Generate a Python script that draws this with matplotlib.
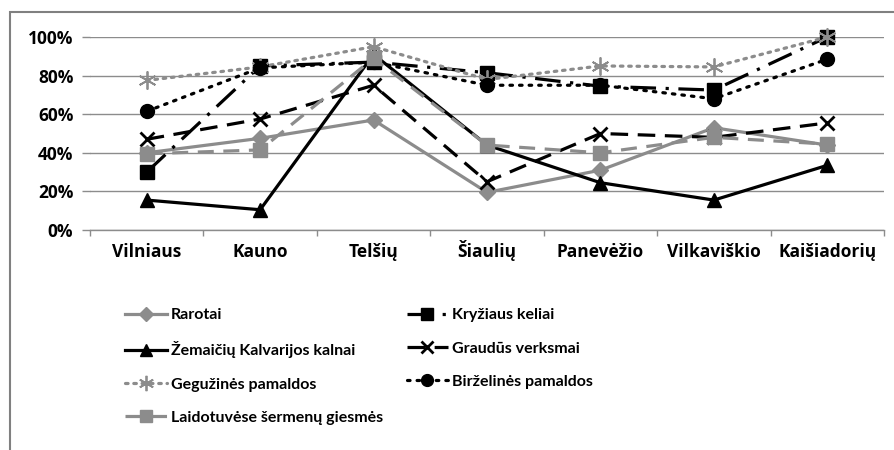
import matplotlib
matplotlib.use("Agg")
import matplotlib.pyplot as plt
from matplotlib.patches import Rectangle

categories = ["Vilniaus", "Kauno", "Telšių", "Šiaulių", "Panevėžio", "Vilkaviškio", "Kaišiadorių"]

rarotai = [40, 47.5, 57, 19.5, 31, 53, 44]
kryziaus = [30, 85, 87, 81.5, 74.5, 72.5, 100]
zemaiciu = [15.5, 10.5, 91, 44, 24.5, 15.5, 33.5]
graudus = [47, 57.5, 75, 25, 50, 48, 55.5]
geguzines = [77.5, 84.5, 95, 78, 85, 84.5, 100]
birzelines = [61.5, 84, 87, 75, 75, 68, 88.5]
laidotuves = [39.5, 41.5, 89, 44, 40, 48, 44.5]

series_names = ["Rarotai", "Kryžiaus keliai", "Žemaičių Kalvarijos kalnai", "Graudūs verksmai",
                "Gegužinės pamaldos", "Birželinės pamaldos", "Laidotuvėse šermenų giesmės"]
yticks = [0, 20, 40, 60, 80, 100]
ytick_labels = ["0%", "20%", "40%", "60%", "80%", "100%"]

GRAY = "#8c8c8c"
BLACK = "#000000"

plt.rcParams["font.family"] = ["Lato", "DejaVu Sans"]
plt.rcParams["font.weight"] = "bold"

fig = plt.figure(figsize=(8.94, 4.5), dpi=100)
# outer chart frame (only top and left edges fall inside the image)
fig.patches.append(Rectangle((9.5/894, -0.05), 1.2, 1.05 - 12.5/450, transform=fig.transFigure,
                             fill=False, edgecolor="#808080", linewidth=1.5))

ax = fig.add_axes([90/894, 1-230/450, (884-90)/894, 193/450])
x = list(range(len(categories)))

styles = [
    dict(data=rarotai, color=GRAY, ls="-", marker="D", ms=8, mfc=GRAY, mec=GRAY),
    dict(data=kryziaus, color=BLACK, ls=(0, (8, 3, 1, 3)), marker="s", ms=10, mfc=BLACK, mec=BLACK),
    dict(data=zemaiciu, color=BLACK, ls="-", marker="^", ms=10, mfc=BLACK, mec=BLACK),
    dict(data=graudus, color=BLACK, ls=(0, (5.5, 3)), marker="x", ms=10, mfc=BLACK, mec=BLACK, mew=2),
    dict(data=geguzines, color=GRAY, ls=(0, (0.8, 1.8)), marker=(6, 2, 0), ms=13, mfc=GRAY, mec=GRAY, mew=1.3),
    dict(data=birzelines, color=BLACK, ls=(0, (0.8, 2.2)), marker="o", ms=10, mfc=BLACK, mec=BLACK),
    dict(data=laidotuves, color=GRAY, ls=(0, (5, 3)), marker="s", ms=10, mfc=GRAY, mec=GRAY),
]

handles = []
for name, st in zip(series_names, styles):
    mew = st.get("mew", 1)
    ln, = ax.plot(x, st["data"], color=st["color"], linestyle=st["ls"], linewidth=2.3,
                  marker=st["marker"], markersize=st["ms"], markerfacecolor=st["mfc"],
                  markeredgecolor=st["mec"], markeredgewidth=mew, label=name,
                  dash_capstyle="round" if "pamaldos" in name else "butt", clip_on=False, zorder=3)
    handles.append(ln)

ax.set_xlim(-0.5, len(categories) - 0.5)
ax.set_ylim(0, 100)
ax.set_yticks(yticks)
ax.set_yticklabels(ytick_labels)
ax.set_xticks(x)
ax.set_xticklabels(categories)
ax.set_xticks([i - 0.5 for i in range(len(categories) + 1)], minor=True)
ax.tick_params(axis="x", which="major", length=0, pad=19.5, colors=BLACK)
ax.tick_params(axis="x", which="minor", length=4, width=1, color="#8c8c8c")
ax.tick_params(axis="y", length=6, width=1, color="#8c8c8c", pad=6)
for lab in ax.get_xticklabels() + ax.get_yticklabels():
    lab.set_fontweight("bold")
    lab.set_family(["Open Sans", "DejaVu Sans"])
    lab.set_fontsize(12.5)
for lab in ax.get_xticklabels():
    lab.set_verticalalignment("baseline")
ax.grid(axis="y", color="#8c8c8c", linewidth=1)
ax.set_axisbelow(True)
for s in ["top", "right", "left"]:
    ax.spines[s].set_visible(False)
ax.spines["bottom"].set_color("#8c8c8c")
ax.spines["bottom"].set_linewidth(1)

order = [0, 2, 4, 6, 1, 3, 5]
leg = fig.legend([handles[i] for i in order], [series_names[i] for i in order],
                 ncol=2, loc="upper left", bbox_to_anchor=(125/894, 1-308/450),
                 frameon=False, fontsize=11.5, handlelength=2.6, handletextpad=0.25,
                 columnspacing=1.5, labelspacing=1.2, borderaxespad=0, borderpad=0,
                 markerscale=0.85)
for t in leg.get_texts():
    t.set_fontweight("bold")

fig.savefig("out.png", dpi=100)
